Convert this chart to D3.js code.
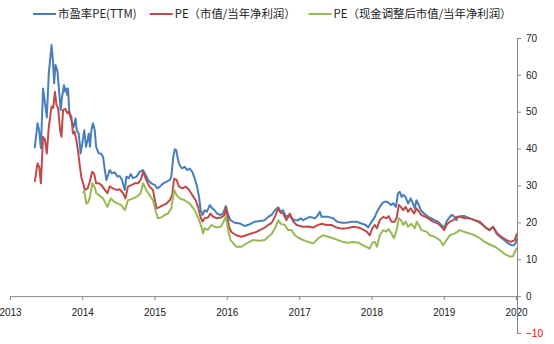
<!DOCTYPE html>
<html>
<head>
<meta charset="utf-8">
<script src="https://cdn.jsdelivr.net/npm/d3@7"></script>
<style>
  html, body { margin: 0; padding: 0; background: #fff; }
  svg { display: block; }
  .tick text { font-family: "Liberation Sans", Arial, sans-serif; font-size: 10px; fill: #222; }
  .legend text { font-family: "Noto Sans CJK SC", sans-serif; font-size: 11.4px; fill: #222; }
</style>
</head>
<body>
<svg id="chart" width="554" height="344"></svg>
<script>
// 市盈率PE(TTM)
const peTTM = [
  ["2013-05-06",40.1],["2013-05-20",46.9],["2013-05-28",45.0],["2013-06-06",40.1],["2013-06-17",56.3],
  ["2013-06-29",51.4],["2013-07-06",48.5],["2013-07-16",60.4],["2013-07-30",68.1],["2013-08-07",63.1],
  ["2013-08-12",57.7],["2013-08-19",62.7],["2013-08-29",60.9],["2013-09-04",56.8],["2013-09-14",50.5],
  ["2013-09-21",54.0],["2013-10-01",57.2],["2013-10-06",55.5],["2013-10-11",56.3],["2013-10-17",54.5],
  ["2013-10-21",56.3],["2013-10-28",49.6],["2013-11-07",47.7],["2013-11-19",45.9],["2013-11-28",48.2],
  ["2013-12-04",45.0],["2013-12-14",44.1],["2013-12-24",38.7],["2014-01-01",41.4],["2014-01-11",45.0],
  ["2014-01-20",40.5],["2014-01-28",42.3],["2014-02-03",44.1],["2014-02-09",40.5],["2014-02-16",45.0],
  ["2014-02-24",46.9],["2014-03-05",45.0],["2014-03-12",40.5],["2014-03-25",38.7],["2014-04-04",38.7],
  ["2014-04-16",37.8],["2014-04-25",34.2],["2014-05-03",31.5],["2014-05-20",34.2],["2014-05-31",33.3],
  ["2014-06-14",33.6],["2014-06-28",32.4],["2014-07-09",32.6],["2014-07-21",31.5],["2014-08-04",28.8],
  ["2014-08-12",32.4],["2014-08-24",32.0],["2014-09-03",33.1],["2014-09-14",32.0],["2014-10-02",32.4],
  ["2014-10-18",33.7],["2014-11-04",34.2],["2014-11-18",32.8],["2014-11-29",31.5],["2014-12-16",30.6],
  ["2015-01-03",30.1],["2015-01-15",29.2],["2015-01-28",29.7],["2015-02-14",30.6],["2015-03-02",31.0],
  ["2015-03-19",31.5],["2015-03-27",32.4],["2015-04-05",37.4],["2015-04-13",39.8],["2015-04-21",39.6],
  ["2015-04-30",36.9],["2015-05-08",35.5],["2015-05-20",34.6],["2015-06-02",35.1],["2015-06-14",34.2],
  ["2015-06-28",34.6],["2015-07-11",33.7],["2015-07-23",31.9],["2015-08-04",29.7],["2015-08-14",26.9],
  ["2015-08-22",23.3],["2015-08-31",22.0],["2015-09-11",23.3],["2015-09-23",22.9],["2015-10-07",24.7],
  ["2015-10-20",23.8],["2015-11-01",23.3],["2015-11-12",22.4],["2015-11-30",22.0],["2015-12-13",22.4],
  ["2015-12-27",24.4],["2016-01-08",22.0],["2016-01-20",20.6],["2016-02-10",19.9],["2016-03-07",19.7],
  ["2016-04-01",19.0],["2016-04-27",19.5],["2016-05-22",20.2],["2016-06-16",20.4],["2016-07-11",20.6],
  ["2016-07-28",21.5],["2016-08-14",22.0],["2016-08-31",23.3],["2016-09-17",24.1],["2016-09-29",22.9],
  ["2016-10-12",23.3],["2016-10-25",21.5],["2016-11-11",22.0],["2016-11-23",21.1],["2016-12-10",20.6],
  ["2016-12-27",20.6],["2017-01-08",21.1],["2017-01-21",20.6],["2017-02-07",21.1],["2017-02-23",21.5],
  ["2017-03-21",21.1],["2017-04-06",22.0],["2017-04-15",22.9],["2017-04-24",21.5],["2017-05-10",21.5],
  ["2017-05-27",21.5],["2017-06-21",21.1],["2017-07-11",20.2],["2017-08-03",19.9],["2017-08-28",19.9],
  ["2017-09-22",20.2],["2017-10-17",20.2],["2017-11-11",19.7],["2017-12-03",19.3],["2017-12-15",18.6],
  ["2018-01-02",20.2],["2018-01-18",21.5],["2018-01-29",22.9],["2018-02-12",24.2],["2018-02-26",25.3],
  ["2018-03-09",25.6],["2018-03-21",25.6],["2018-03-29",25.3],["2018-04-09",24.7],["2018-04-20",25.2],
  ["2018-05-04",24.2],["2018-05-15",27.9],["2018-05-24",28.3],["2018-06-02",26.9],["2018-06-10",27.5],
  ["2018-06-22",26.9],["2018-07-05",25.1],["2018-07-18",26.5],["2018-07-30",25.1],["2018-08-08",23.8],
  ["2018-08-16",26.0],["2018-08-28",24.7],["2018-09-07",23.3],["2018-09-24",22.4],["2018-10-14",21.5],
  ["2018-10-31",21.1],["2018-11-16",20.6],["2018-12-03",20.2],["2018-12-20",19.3],["2019-01-03",18.4],
  ["2019-01-15",20.2],["2019-01-26",21.1],["2019-02-09",22.0],["2019-02-22",21.7],["2019-03-06",20.6],
  ["2019-03-14",21.5],["2019-03-28",21.7],["2019-04-17",21.7],["2019-05-12",21.1],["2019-06-03",20.6],
  ["2019-06-23",20.2],["2019-07-18",19.3],["2019-08-04",18.4],["2019-08-21",17.9],["2019-09-07",18.8],
  ["2019-09-24",17.0],["2019-10-11",16.1],["2019-11-02",15.2],["2019-11-22",14.3],["2019-12-09",13.8],
  ["2019-12-22",13.8],["2019-12-31",14.5],["2020-01-06",15.7]
];

// PE（市值/当年净利润）
const peMarket = [
  ["2013-05-06",31.0],["2013-05-20",36.0],["2013-05-29",35.0],["2013-06-06",30.6],["2013-06-17",43.2],
  ["2013-06-26",42.5],["2013-07-06",38.7],["2013-07-16",45.9],["2013-07-30",51.4],["2013-08-07",51.0],
  ["2013-08-16",55.4],["2013-08-24",51.8],["2013-09-01",51.0],["2013-09-11",45.0],["2013-09-18",43.2],
  ["2013-09-26",50.5],["2013-10-08",50.8],["2013-10-18",49.6],["2013-10-26",50.0],["2013-11-07",48.6],
  ["2013-11-15",44.1],["2013-11-23",44.6],["2013-12-02",42.3],["2013-12-10",39.6],["2013-12-18",36.0],
  ["2013-12-27",32.4],["2014-01-05",30.6],["2014-01-14",28.8],["2014-01-28",29.2],["2014-02-08",31.0],
  ["2014-02-20",33.7],["2014-03-02",33.2],["2014-03-12",30.6],["2014-03-25",30.6],["2014-04-08",30.1],
  ["2014-04-25",28.8],["2014-05-08",27.9],["2014-05-20",29.8],["2014-06-05",29.2],["2014-06-22",28.8],
  ["2014-07-09",29.0],["2014-07-26",27.9],["2014-08-07",26.5],["2014-08-20",29.7],["2014-09-06",30.1],
  ["2014-09-23",30.6],["2014-10-09",30.6],["2014-10-23",31.5],["2014-11-04",33.7],["2014-11-20",31.5],
  ["2014-12-07",29.7],["2014-12-24",28.8],["2015-01-03",26.0],["2015-01-11",23.8],["2015-01-28",24.2],
  ["2015-02-14",24.7],["2015-03-02",25.1],["2015-03-19",26.0],["2015-03-31",27.4],["2015-04-10",31.9],
  ["2015-04-22",31.5],["2015-05-05",29.7],["2015-05-22",29.2],["2015-06-08",29.7],["2015-06-25",28.8],
  ["2015-07-11",27.4],["2015-07-28",26.0],["2015-08-09",24.2],["2015-08-21",21.5],["2015-08-31",20.2],
  ["2015-09-11",21.1],["2015-09-28",21.3],["2015-10-10",22.4],["2015-10-23",21.6],["2015-11-12",21.1],
  ["2015-12-04",21.3],["2015-12-21",22.0],["2015-12-29",24.1],["2016-01-12",18.8],["2016-01-24",17.4],
  ["2016-02-18",16.5],["2016-03-15",16.1],["2016-04-09",16.5],["2016-05-04",17.0],["2016-05-29",17.4],
  ["2016-06-16",17.9],["2016-07-11",18.6],["2016-07-28",19.3],["2016-08-14",19.8],["2016-08-31",21.5],
  ["2016-09-17",23.8],["2016-09-29",22.6],["2016-10-12",22.4],["2016-10-28",20.6],["2016-11-15",22.4],
  ["2016-12-02",20.2],["2016-12-19",19.3],["2017-01-04",19.0],["2017-01-21",18.8],["2017-02-16",18.9],
  ["2017-03-13",18.6],["2017-04-06",19.3],["2017-04-24",19.6],["2017-05-19",19.3],["2017-06-13",19.3],
  ["2017-07-08",18.6],["2017-08-03",18.3],["2017-08-28",18.4],["2017-10-01",18.8],["2017-10-26",18.6],
  ["2017-11-19",18.1],["2017-12-09",17.4],["2017-12-23",16.5],["2018-01-05",18.4],["2018-01-18",19.3],
  ["2018-01-29",18.4],["2018-02-12",20.6],["2018-03-01",21.5],["2018-03-18",21.1],["2018-03-29",21.7],
  ["2018-04-12",20.2],["2018-04-29",20.2],["2018-05-09",21.5],["2018-05-19",24.7],["2018-05-29",24.2],
  ["2018-06-10",23.3],["2018-06-22",24.2],["2018-07-05",22.9],["2018-07-18",23.8],["2018-08-04",22.4],
  ["2018-08-16",23.8],["2018-08-28",23.0],["2018-09-10",22.0],["2018-09-27",21.6],["2018-10-14",21.1],
  ["2018-11-08",20.2],["2018-12-03",19.7],["2018-12-24",18.6],["2019-01-03",17.9],["2019-01-15",19.3],
  ["2019-02-01",20.2],["2019-02-18",20.6],["2019-03-06",21.5],["2019-03-23",21.5],["2019-04-17",21.1],
  ["2019-05-12",21.1],["2019-06-06",20.6],["2019-07-02",20.2],["2019-07-27",18.8],["2019-08-21",17.9],
  ["2019-09-07",18.8],["2019-09-29",17.0],["2019-10-19",16.1],["2019-11-14",15.2],["2019-12-05",14.7],
  ["2019-12-25",15.2],["2020-01-06",17.0]
];

// PE（现金调整后市值/当年净利润）
const peCashAdj = [
  ["2014-01-05",27.9],["2014-01-11",28.5],["2014-01-22",25.1],["2014-01-30",25.3],["2014-02-09",26.9],
  ["2014-02-21",30.6],["2014-03-05",29.5],["2014-03-13",27.9],["2014-03-30",27.3],["2014-04-16",26.5],
  ["2014-05-08",24.2],["2014-05-25",26.5],["2014-06-11",25.6],["2014-07-01",25.1],["2014-07-18",24.6],
  ["2014-08-04",23.3],["2014-08-20",26.0],["2014-09-06",26.3],["2014-10-02",26.9],["2014-10-23",27.9],
  ["2014-11-04",30.6],["2014-11-20",28.8],["2014-12-07",27.4],["2014-12-24",26.0],["2015-01-06",23.3],
  ["2015-01-18",21.1],["2015-02-04",21.3],["2015-02-21",22.0],["2015-03-10",22.4],["2015-03-27",23.8],
  ["2015-04-10",28.8],["2015-04-22",27.4],["2015-05-08",26.5],["2015-06-02",26.0],["2015-06-28",25.1],
  ["2015-07-23",23.3],["2015-08-14",20.6],["2015-08-26",18.8],["2015-09-03",17.0],["2015-09-11",18.4],
  ["2015-09-28",18.0],["2015-10-15",19.3],["2015-11-10",18.6],["2015-12-04",18.9],["2015-12-27",21.5],
  ["2016-01-08",17.9],["2016-01-20",15.2],["2016-02-18",13.4],["2016-03-15",13.4],["2016-04-09",14.3],
  ["2016-05-13",15.2],["2016-06-16",15.0],["2016-07-11",15.2],["2016-07-28",16.1],["2016-08-14",16.8],
  ["2016-08-31",18.4],["2016-09-17",20.6],["2016-09-30",19.6],["2016-10-20",19.3],["2016-11-06",17.9],
  ["2016-11-23",17.9],["2016-12-10",16.5],["2016-12-27",15.9],["2017-01-21",15.2],["2017-02-16",14.7],
  ["2017-03-13",14.3],["2017-04-06",15.6],["2017-05-01",16.5],["2017-05-27",16.1],["2017-06-21",15.7],
  ["2017-07-16",15.2],["2017-08-10",14.7],["2017-09-04",14.5],["2017-09-30",14.7],["2017-10-26",14.5],
  ["2017-11-19",13.8],["2017-12-09",13.3],["2017-12-23",12.9],["2018-01-05",14.5],["2018-01-18",14.7],
  ["2018-01-29",13.4],["2018-02-12",16.5],["2018-03-01",17.9],["2018-03-18",17.5],["2018-03-29",18.2],
  ["2018-04-12",17.0],["2018-04-25",15.7],["2018-05-06",17.5],["2018-05-19",21.1],["2018-05-29",20.7],
  ["2018-06-10",19.3],["2018-06-22",20.2],["2018-07-05",18.8],["2018-07-21",19.6],["2018-08-08",18.4],
  ["2018-08-18",20.2],["2018-08-28",19.3],["2018-09-10",17.9],["2018-10-06",17.5],["2018-10-23",16.5],
  ["2018-11-16",16.1],["2018-12-12",15.2],["2018-12-29",13.8],["2019-01-12",15.0],["2019-02-01",16.5],
  ["2019-02-26",17.0],["2019-03-23",17.9],["2019-04-17",17.4],["2019-05-12",17.0],["2019-06-06",16.5],
  ["2019-07-02",15.7],["2019-07-27",14.7],["2019-08-21",14.0],["2019-09-15",13.4],["2019-10-11",12.5],
  ["2019-11-05",11.4],["2019-12-01",10.7],["2019-12-18",10.9],["2019-12-30",12.5],["2020-01-06",13.0]
];

const yearTicks = ["2013","2014","2015","2016","2017","2018","2019","2020"];
const valueTicks = [-10, 0, 10, 20, 30, 40, 50, 60, 70];
const seriesNames = ["市盈率PE(TTM)", "PE（市值/当年净利润）", "PE（现金调整后市值/当年净利润）"];
const seriesColors = ["#4A7EBB", "#BE4B48", "#98B954"];

const parseDate = d3.utcParse("%Y-%m-%d");
const series = [peTTM, peMarket, peCashAdj].map(s => s.map(([d, v]) => ({ date: parseDate(d), value: v })));

const svg = d3.select("#chart");

const x = d3.scaleUtc()
  .domain([parseDate("2013-01-01"), parseDate("2020-01-06")])
  .range([10, 517]);
const y = d3.scaleLinear().domain([-10, 70]).range([333, 38]);

// horizontal date axis sitting on the zero line
const xAxis = svg.append("g")
  .attr("transform", `translate(0,${y(0)})`)
  .call(d3.axisBottom(x)
    .tickValues(yearTicks.map(t => parseDate(t + "-01-01")))
    .tickFormat(d3.utcFormat("%Y"))
    .tickSize(4)
    .tickSizeOuter(0));
xAxis.selectAll("text").attr("dy", "1.25em");

// value axis on the right side
const yAxis = svg.append("g")
  .attr("transform", `translate(${x.range()[1]},0)`)
  .call(d3.axisRight(y).tickValues(valueTicks).tickSize(4).tickSizeOuter(0).tickPadding(5));
yAxis.selectAll(".tick text").filter(d => d < 0).style("fill", "#FF0000");

svg.selectAll(".domain, .tick line").attr("stroke", "#888").attr("stroke-width", 1);

// series lines
const line = d3.line().x(d => x(d.date)).y(d => y(d.value));
svg.append("g").selectAll("path")
  .data(series)
  .join("path")
  .attr("d", line)
  .attr("fill", "none")
  .attr("stroke", (d, i) => seriesColors[i])
  .attr("stroke-width", 2)
  .attr("stroke-linejoin", "round");

// legend row
const legend = svg.append("g").attr("class", "legend");
let lx = 33;
seriesNames.forEach((name, i) => {
  const g = legend.append("g");
  g.append("line")
    .attr("x1", lx).attr("x2", lx + 23)
    .attr("y1", 14).attr("y2", 14)
    .attr("stroke", seriesColors[i]).attr("stroke-width", 2);
  const t = g.append("text")
    .attr("x", lx + 25).attr("y", 14)
    .attr("dy", "0.35em")
    .text(name);
  lx += 25 + t.node().getComputedTextLength() + 13;
});
</script>
</body>
</html>
